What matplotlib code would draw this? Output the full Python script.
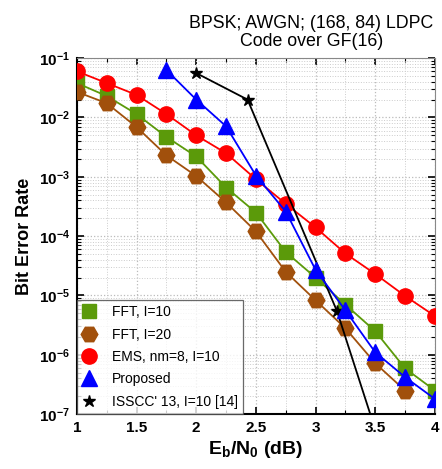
import matplotlib
matplotlib.use('Agg')
import matplotlib.pyplot as plt
import numpy as np
from matplotlib.ticker import FixedLocator, NullFormatter, FuncFormatter

plt.rcParams['font.family'] = ['Liberation Sans', 'DejaVu Sans']
plt.rcParams['mathtext.fontset'] = 'custom'
plt.rcParams['mathtext.rm'] = 'Liberation Sans'
plt.rcParams['mathtext.bf'] = 'Liberation Sans:bold'

snr = [1.0, 1.25, 1.5, 1.75, 2.0, 2.25, 2.5, 2.75, 3.0, 3.25, 3.5, 3.75, 4.0]

fft_i10 = [0.038, 0.023, 0.0114, 0.0047, 0.0022, 6.6e-4, 2.5e-4, 5.4e-5, 2.0e-5, 7e-6, 2.5e-6, 5.9e-7, 2.5e-7]

snr_fft20 = [1.0, 1.25, 1.5, 1.75, 2.0, 2.25, 2.5, 2.75, 3.0, 3.25, 3.5, 3.75]
fft_i20 = [0.027, 0.0174, 0.0069, 0.0023, 1.03e-3, 3.7e-4, 1.2e-4, 2.5e-5, 8.3e-6, 2.8e-6, 7.2e-7, 2.5e-7]

ems = [0.060, 0.038, 0.024, 0.0114, 5.0e-3, 2.5e-3, 9.1e-4, 3.5e-4, 1.4e-4, 5.1e-5, 2.3e-5, 9.8e-6, 4.5e-6]

snr_prop = [1.75, 2.0, 2.25, 2.5, 2.75, 3.0, 3.25, 3.5, 3.75, 4.0]
proposed = [0.063, 0.020, 7.1e-3, 1.05e-3, 2.6e-4, 2.7e-5, 5.6e-6, 1.1e-6, 4.2e-7, 1.8e-7]

snr_isscc = [2.0, 2.43, 3.18, 3.5]
isscc = [0.056, 0.020, 5.4e-6, 5.5e-8]

decades = [1e-7, 1e-6, 1e-5, 1e-4, 1e-3, 1e-2, 1e-1]

fig = plt.figure(figsize=(4.42, 4.69), dpi=100)
ax = fig.add_axes([0.174, 0.117, 0.81, 0.759])

ax.plot(snr, fft_i10, color='#5b9a0a', marker='s', markersize=10, lw=1.3,
        label='FFT, I=10', zorder=3)
ax.plot(snr_fft20, fft_i20, color='#a1500c', marker='H', markersize=12, lw=1.3,
        label='FFT, I=20', zorder=3)
ax.plot(snr, ems, color='#ff0000', marker='o', markersize=11, lw=1.3,
        label='EMS, nm=8, I=10', zorder=3)
ax.plot(snr_prop, proposed, color='#0000ff', marker='^', markersize=11, lw=1.3,
        label='Proposed', zorder=4)
ax.plot(snr_isscc, isscc, color='black', marker='*', markersize=9, lw=1.3,
        label="ISSCC' 13, I=10 [14]", zorder=3)

ax.set_yscale('log')
ax.set_xlim(1, 4)
ax.set_ylim(1e-7, 1e-1)

ax.xaxis.set_major_locator(FixedLocator([1, 1.5, 2, 2.5, 3, 3.5, 4]))
ax.xaxis.set_minor_locator(FixedLocator(np.arange(1, 4.01, 0.25)))
ax.xaxis.set_major_formatter(FuncFormatter(lambda v, p: f'{v:g}'))
ax.yaxis.set_major_locator(FixedLocator(decades))
minor_y = [m * d for d in decades[:-1] for m in range(2, 10)]
ax.yaxis.set_minor_locator(FixedLocator(minor_y))
ax.yaxis.set_minor_formatter(NullFormatter())
ax.yaxis.set_major_formatter(FuncFormatter(
    lambda v, p: r'$\mathbf{10^{%d}}$' % int(round(np.log10(v)))))

ax.grid(which='major', color='#bbbbbb', linestyle=':', lw=0.9)
ax.grid(which='minor', color='#cccccc', linestyle=':', lw=0.7)

ax.tick_params(which='both', direction='in', top=True, right=True)
ax.tick_params(which='major', length=5, width=1.2, labelsize=11, pad=5)
ax.tick_params(which='minor', length=3, width=0.8)
for lbl in ax.get_xticklabels():
    lbl.set_fontweight('bold')

for side in ['left', 'bottom']:
    ax.spines[side].set_linewidth(1.5)
for side in ['top', 'right']:
    ax.spines[side].set_color('#888888')

ax.set_xlabel(r'E$_\mathregular{b}$/N$_\mathregular{0}$ (dB)', fontsize=14,
              fontweight='bold', labelpad=3)
ax.set_ylabel('Bit Error Rate', fontsize=13, fontweight='bold', labelpad=4)

fig.text(0.705, 0.968, 'BPSK; AWGN; (168, 84) LDPC\nCode over GF(16)',
         ha='center', va='top', fontsize=12.8, linespacing=1.1)

leg = ax.legend(loc='lower left', fontsize=10, handlelength=1.0,
                frameon=True, fancybox=False, borderaxespad=0,
                labelspacing=0.6, handletextpad=1.1)
leg.get_frame().set_edgecolor('#444444')
leg.get_frame().set_linewidth(0.9)
for h in leg.legend_handles:
    h.set_linestyle('None')

fig.savefig('out.png', dpi=100)
